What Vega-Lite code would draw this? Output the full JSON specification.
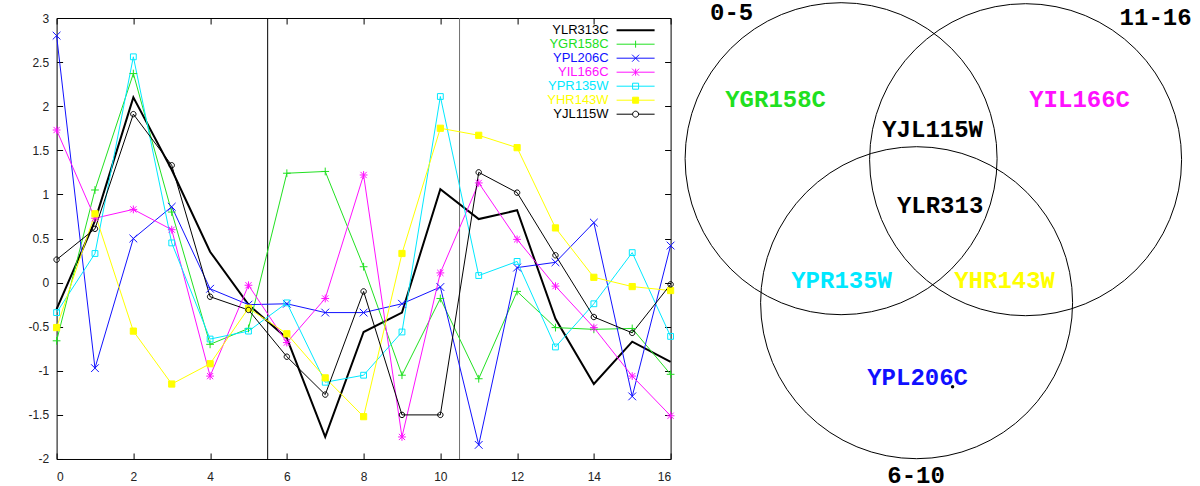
{
  "$schema": "https://vega.github.io/schema/vega-lite/v6.json",
  "background": "white",
  "padding": {"left": 26.6, "top": 0, "right": 0, "bottom": 0},
  "spacing": 0,
  "bounds": "flush",
  "config": {
    "view": {"stroke": null},
    "axis": {"labelFont": "Liberation Sans", "labelFontSize": 12, "labelColor": "#222", "tickColor": "#000", "domain": false, "grid": false, "title": null}
  },
  "resolve": {"scale": {"color": "independent", "x": "independent", "y": "independent", "shape": "independent", "stroke": "independent"}, "legend": {"color": "independent"}},
  "datasets": {
    "expr": [
      {"series": "YLR313C", "t": 0, "v": -0.3}, {"series": "YLR313C", "t": 1, "v": 0.7}, {"series": "YLR313C", "t": 2, "v": 2.1}, {"series": "YLR313C", "t": 3, "v": 1.28}, {"series": "YLR313C", "t": 4, "v": 0.35}, {"series": "YLR313C", "t": 5, "v": -0.25}, {"series": "YLR313C", "t": 6, "v": -0.63}, {"series": "YLR313C", "t": 7, "v": -1.75}, {"series": "YLR313C", "t": 8, "v": -0.56}, {"series": "YLR313C", "t": 9, "v": -0.34}, {"series": "YLR313C", "t": 10, "v": 1.06}, {"series": "YLR313C", "t": 11, "v": 0.72}, {"series": "YLR313C", "t": 12, "v": 0.82}, {"series": "YLR313C", "t": 13, "v": -0.41}, {"series": "YLR313C", "t": 14, "v": -1.15}, {"series": "YLR313C", "t": 15, "v": -0.67}, {"series": "YLR313C", "t": 16, "v": -0.9},
      {"series": "YGR158C", "t": 0, "v": -0.66}, {"series": "YGR158C", "t": 1, "v": 1.05}, {"series": "YGR158C", "t": 2, "v": 2.37}, {"series": "YGR158C", "t": 3, "v": 0.8}, {"series": "YGR158C", "t": 4, "v": -0.7}, {"series": "YGR158C", "t": 5, "v": -0.52}, {"series": "YGR158C", "t": 6, "v": 1.24}, {"series": "YGR158C", "t": 7, "v": 1.26}, {"series": "YGR158C", "t": 8, "v": 0.18}, {"series": "YGR158C", "t": 9, "v": -1.05}, {"series": "YGR158C", "t": 10, "v": -0.18}, {"series": "YGR158C", "t": 11, "v": -1.09}, {"series": "YGR158C", "t": 12, "v": -0.1}, {"series": "YGR158C", "t": 13, "v": -0.51}, {"series": "YGR158C", "t": 14, "v": -0.53}, {"series": "YGR158C", "t": 15, "v": -0.52}, {"series": "YGR158C", "t": 16, "v": -1.04},
      {"series": "YPL206C", "t": 0, "v": 2.8}, {"series": "YPL206C", "t": 1, "v": -0.97}, {"series": "YPL206C", "t": 2, "v": 0.5}, {"series": "YPL206C", "t": 3, "v": 0.86}, {"series": "YPL206C", "t": 4, "v": -0.07}, {"series": "YPL206C", "t": 5, "v": -0.25}, {"series": "YPL206C", "t": 6, "v": -0.24}, {"series": "YPL206C", "t": 7, "v": -0.34}, {"series": "YPL206C", "t": 8, "v": -0.34}, {"series": "YPL206C", "t": 9, "v": -0.24}, {"series": "YPL206C", "t": 10, "v": -0.05}, {"series": "YPL206C", "t": 11, "v": -1.84}, {"series": "YPL206C", "t": 12, "v": 0.17}, {"series": "YPL206C", "t": 13, "v": 0.23}, {"series": "YPL206C", "t": 14, "v": 0.68}, {"series": "YPL206C", "t": 15, "v": -1.29}, {"series": "YPL206C", "t": 16, "v": 0.42},
      {"series": "YIL166C", "t": 0, "v": 1.73}, {"series": "YIL166C", "t": 1, "v": 0.73}, {"series": "YIL166C", "t": 2, "v": 0.83}, {"series": "YIL166C", "t": 3, "v": 0.6}, {"series": "YIL166C", "t": 4, "v": -1.06}, {"series": "YIL166C", "t": 5, "v": -0.03}, {"series": "YIL166C", "t": 6, "v": -0.68}, {"series": "YIL166C", "t": 7, "v": -0.18}, {"series": "YIL166C", "t": 8, "v": 1.22}, {"series": "YIL166C", "t": 9, "v": -1.75}, {"series": "YIL166C", "t": 10, "v": 0.11}, {"series": "YIL166C", "t": 11, "v": 1.13}, {"series": "YIL166C", "t": 12, "v": 0.49}, {"series": "YIL166C", "t": 13, "v": -0.04}, {"series": "YIL166C", "t": 14, "v": -0.51}, {"series": "YIL166C", "t": 15, "v": -1.06}, {"series": "YIL166C", "t": 16, "v": -1.51},
      {"series": "YPR135W", "t": 0, "v": -0.34}, {"series": "YPR135W", "t": 1, "v": 0.33}, {"series": "YPR135W", "t": 2, "v": 2.56}, {"series": "YPR135W", "t": 3, "v": 0.45}, {"series": "YPR135W", "t": 4, "v": -0.64}, {"series": "YPR135W", "t": 5, "v": -0.55}, {"series": "YPR135W", "t": 6, "v": -0.23}, {"series": "YPR135W", "t": 7, "v": -1.13}, {"series": "YPR135W", "t": 8, "v": -1.05}, {"series": "YPR135W", "t": 9, "v": -0.56}, {"series": "YPR135W", "t": 10, "v": 2.11}, {"series": "YPR135W", "t": 11, "v": 0.08}, {"series": "YPR135W", "t": 12, "v": 0.24}, {"series": "YPR135W", "t": 13, "v": -0.73}, {"series": "YPR135W", "t": 14, "v": -0.24}, {"series": "YPR135W", "t": 15, "v": 0.34}, {"series": "YPR135W", "t": 16, "v": -0.61},
      {"series": "YHR143W", "t": 0, "v": -0.51}, {"series": "YHR143W", "t": 1, "v": 0.78}, {"series": "YHR143W", "t": 2, "v": -0.55}, {"series": "YHR143W", "t": 3, "v": -1.15}, {"series": "YHR143W", "t": 4, "v": -0.92}, {"series": "YHR143W", "t": 5, "v": -0.29}, {"series": "YHR143W", "t": 6, "v": -0.58}, {"series": "YHR143W", "t": 7, "v": -1.08}, {"series": "YHR143W", "t": 8, "v": -1.52}, {"series": "YHR143W", "t": 9, "v": 0.33}, {"series": "YHR143W", "t": 10, "v": 1.75}, {"series": "YHR143W", "t": 11, "v": 1.67}, {"series": "YHR143W", "t": 12, "v": 1.53}, {"series": "YHR143W", "t": 13, "v": 0.62}, {"series": "YHR143W", "t": 14, "v": 0.06}, {"series": "YHR143W", "t": 15, "v": -0.045}, {"series": "YHR143W", "t": 16, "v": -0.09},
      {"series": "YJL115W", "t": 0, "v": 0.26}, {"series": "YJL115W", "t": 1, "v": 0.61}, {"series": "YJL115W", "t": 2, "v": 1.91}, {"series": "YJL115W", "t": 3, "v": 1.33}, {"series": "YJL115W", "t": 4, "v": -0.16}, {"series": "YJL115W", "t": 5, "v": -0.31}, {"series": "YJL115W", "t": 6, "v": -0.84}, {"series": "YJL115W", "t": 7, "v": -1.27}, {"series": "YJL115W", "t": 8, "v": -0.1}, {"series": "YJL115W", "t": 9, "v": -1.5}, {"series": "YJL115W", "t": 10, "v": -1.5}, {"series": "YJL115W", "t": 11, "v": 1.25}, {"series": "YJL115W", "t": 12, "v": 1.02}, {"series": "YJL115W", "t": 13, "v": 0.31}, {"series": "YJL115W", "t": 14, "v": -0.39}, {"series": "YJL115W", "t": 15, "v": -0.57}, {"series": "YJL115W", "t": 16, "v": -0.02}
    ],
    "bounds": [{"b": 5.5, "k": "a"}, {"b": 10.5, "k": "b"}],
    "circles": [{"set": "0-5", "cx": 839.5, "cy": 158}, {"set": "11-16", "cx": 1024, "cy": 159}, {"set": "6-10", "cx": 915, "cy": 302}],
    "setlabels": [{"label": "0-5", "x": 730, "y": 12.5}, {"label": "11-16", "x": 1154, "y": 17.5}, {"label": "6-10", "x": 914.5, "y": 475.5}],
    "genes": [{"g": "YGR158C", "x": 774, "y": 99}, {"g": "YIL166C", "x": 1078, "y": 99}, {"g": "YJL115W", "x": 931, "y": 129.5}, {"g": "YLR313", "x": 938.5, "y": 205}, {"g": "YPR135W", "x": 840, "y": 280.5}, {"g": "YHR143W", "x": 1003, "y": 280.5}, {"g": "YPL206C", "x": 916, "y": 377.5}],
    "dot": [{"x": 951, "y": 386}]
  },
  "hconcat": [
    {
      "width": 614,
      "height": 441,
      "view": {"stroke": "#000", "strokeWidth": 1},
      "resolve": {"axis": {"x": "independent", "y": "independent"}},
      "layer": [
        {
          "data": {"name": "bounds"},
          "mark": {"type": "rule", "strokeWidth": 1},
          "encoding": {
            "x": {"field": "b", "type": "quantitative", "scale": {"domain": [0, 16], "nice": false, "zero": false}, "axis": null},
            "stroke": {"field": "k", "type": "nominal", "scale": {"domain": ["a", "b"], "range": ["#000000", "#707070"]}, "legend": null}
          }
        },
        {
          "data": {"name": "expr"},
          "mark": {"type": "line"},
          "encoding": {
            "x": {"field": "t", "type": "quantitative", "scale": {"domain": [0, 16], "nice": false, "zero": false},
                  "axis": {"orient": "bottom", "values": [0, 2, 4, 6, 8, 10, 12, 14, 16], "tickSize": -6, "labelPadding": 18.5}},
            "y": {"field": "v", "type": "quantitative", "scale": {"domain": [-2, 3], "nice": false, "zero": false},
                  "axis": {"orient": "left", "values": [-2, -1.5, -1, -0.5, 0, 0.5, 1, 1.5, 2, 2.5, 3], "tickSize": -6, "labelPadding": 14, "labelExpr": "datum.value + ''"}},
            "color": {"field": "series", "type": "nominal",
                      "scale": {"domain": ["YLR313C", "YGR158C", "YPL206C", "YIL166C", "YPR135W", "YHR143W", "YJL115W"],
                                "range": ["#000000", "#20e020", "#1010ff", "#ff10ff", "#00e8ff", "#ffff00", "#000000"]},
                      "legend": {
                        "orient": "none", "legendX": 470, "legendY": 5.7, "title": null,
                        "labelFont": "Liberation Sans", "labelFontSize": 13, "symbolSize": 100, "padding": 0, "rowPadding": -1.4, "labelLimit": 300,
                        "encode": {
                          "labels": {"update": {"x": {"value": 82}, "align": {"value": "right"},
                            "fill": {"signal": "datum.value === 'YGR158C' ? '#20e020' : datum.value === 'YPL206C' ? '#1010ff' : datum.value === 'YIL166C' ? '#ff10ff' : datum.value === 'YPR135W' ? '#00e8ff' : datum.value === 'YHR143W' ? '#ffff00' : '#000000'"}}},
                          "symbols": {"update": {"x": {"value": 109}, "size": {"value": 100}, "opacity": {"value": 1},
                            "shape": {"signal": "datum.value === 'YLR313C' ? 'M-3.8,0H3.8' : datum.value === 'YGR158C' ? 'M-3.8,0H3.8M0,-0.7V0.7' : datum.value === 'YPL206C' ? 'M-3.8,0H3.8M-0.7,-0.7L0.7,0.7M-0.7,0.7L0.7,-0.7' : datum.value === 'YIL166C' ? 'M-3.8,0H3.8M0,-0.7V0.7M-0.7,-0.7L0.7,0.7M-0.7,0.7L0.7,-0.7' : datum.value === 'YJL115W' ? 'M-3.8,0H-0.6M0.6,0H3.8M0.6,0A0.6,0.6,0,1,1,-0.6,0A0.6,0.6,0,1,1,0.6,0' : 'M-3.8,0H3.8M-0.6,-0.6H0.6V0.6H-0.6Z'"},
                            "fill": {"signal": "datum.value === 'YHR143W' ? '#ffff00' : 'transparent'"},
                            "strokeWidth": {"signal": "datum.value === 'YLR313C' ? 2 : 1"}}}
                        }
                      }},
            "strokeWidth": {"condition": {"test": "datum.series === 'YLR313C'", "value": 2}, "value": 1}
          }
        },
        {
          "data": {"name": "expr"},
          "transform": [{"filter": "datum.series !== 'YLR313C'"}],
          "mark": {"type": "point", "filled": false, "size": 60, "strokeWidth": 1, "opacity": 1},
          "encoding": {
            "x": {"field": "t", "type": "quantitative", "axis": {"orient": "top", "values": [0, 2, 4, 6, 8, 10, 12, 14, 16], "tickSize": -6, "labels": false}},
            "y": {"field": "v", "type": "quantitative", "axis": {"orient": "right", "values": [-2, -1.5, -1, -0.5, 0, 0.5, 1, 1.5, 2, 2.5, 3], "tickSize": -6, "labels": false}},
            "color": {"field": "series", "type": "nominal", "legend": null},
            "shape": {"field": "series", "type": "nominal",
                      "scale": {"domain": ["YGR158C", "YPL206C", "YIL166C", "YPR135W", "YHR143W", "YJL115W"],
                                "range": ["M-1,0H1M0,-1V1", "M-1,-1L1,1M-1,1L1,-1", "M-1,0H1M0,-1V1M-0.8,-0.8L0.8,0.8M-0.8,0.8L0.8,-0.8", "M-0.75,-0.75H0.75V0.75H-0.75Z", "M-0.8,-0.8H0.8V0.8H-0.8Z", "M0.7,0A0.7,0.7,0,1,1,-0.7,0A0.7,0.7,0,1,1,0.7,0"]},
                      "legend": null},
            "fill": {"condition": {"test": "datum.series === 'YHR143W'", "value": "#ffff00"}, "value": "transparent"}
          }
        }
      ]
    },
    {
      "width": 520,
      "height": 441,
      "view": {"stroke": null},
      "layer": [
        {
          "data": {"name": "circles"},
          "mark": {"type": "point", "shape": "circle", "filled": false, "size": 97344, "stroke": "#000000", "strokeWidth": 1, "opacity": 1},
          "encoding": {
            "x": {"field": "cx", "type": "quantitative", "scale": {"domain": [669, 1189], "nice": false, "zero": false}, "axis": null},
            "y": {"field": "cy", "type": "quantitative", "scale": {"domain": [17.3, 458.3], "nice": false, "zero": false, "reverse": true}, "axis": null}
          }
        },
        {
          "data": {"name": "setlabels"},
          "mark": {"type": "text", "font": "Liberation Mono", "fontWeight": "bold", "fontSize": 24, "color": "#000000", "align": "center", "baseline": "middle"},
          "encoding": {
            "x": {"field": "x", "type": "quantitative", "axis": null},
            "y": {"field": "y", "type": "quantitative", "axis": null},
            "text": {"field": "label"}
          }
        },
        {
          "data": {"name": "genes"},
          "mark": {"type": "text", "font": "Liberation Mono", "fontWeight": "bold", "fontSize": 24, "align": "center", "baseline": "middle"},
          "encoding": {
            "x": {"field": "x", "type": "quantitative", "axis": null},
            "y": {"field": "y", "type": "quantitative", "axis": null},
            "text": {"field": "g"},
            "color": {"field": "g", "type": "nominal",
                      "scale": {"domain": ["YGR158C", "YIL166C", "YJL115W", "YLR313", "YPR135W", "YHR143W", "YPL206C"],
                                "range": ["#20e020", "#ff10ff", "#000000", "#000000", "#00e8ff", "#ffff00", "#1010ff"]},
                      "legend": null}
          }
        },
        {
          "data": {"name": "dot"},
          "mark": {"type": "point", "shape": "circle", "filled": true, "size": 12, "color": "#000000", "opacity": 1},
          "encoding": {
            "x": {"field": "x", "type": "quantitative", "axis": null},
            "y": {"field": "y", "type": "quantitative", "axis": null}
          }
        }
      ]
    }
  ]
}
